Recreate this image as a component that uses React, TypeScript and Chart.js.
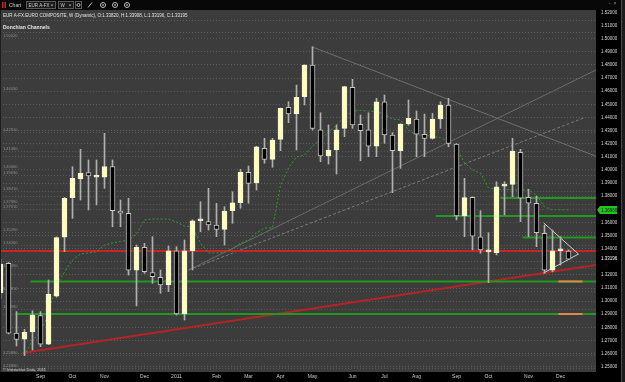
import React, { useEffect, useRef } from 'react';
import { Chart, registerables } from 'chart.js';

Chart.register(...registerables);

// Weekly candles, Aug 2010 .. Dec 2011 (index = week number)
const opens = [
  1.3062, 1.3289, 1.2756, 1.2711, 1.2765, 1.2889, 1.2672, 1.3038, 1.3487, 1.3788,
  1.3931, 1.3979, 1.3944, 1.3944, 1.4025, 1.3687, 1.3670, 1.3237, 1.3410, 1.3217,
  1.3182, 1.3123, 1.3384, 1.2902, 1.3384, 1.3613, 1.3606, 1.3580, 1.3547, 1.3689,
  1.3750, 1.3982, 1.3902, 1.4165, 1.4081, 1.4233, 1.4478, 1.4427, 1.4558, 1.4800,
  1.4305, 1.4106, 1.4152, 1.4317, 1.4630, 1.4348, 1.4305, 1.4182, 1.4520, 1.4266,
  1.4147, 1.4350, 1.4388, 1.4272, 1.4241, 1.4388, 1.4495, 1.4198, 1.3649, 1.3792,
  1.3491, 1.3375, 1.3369, 1.3877, 1.3890, 1.4134, 1.3792, 1.3746, 1.3517, 1.3237,
  1.3384, 1.3382,
];
const highs = [
  1.3320, 1.3295, 1.2920, 1.2785, 1.2927, 1.2920, 1.3161, 1.3490, 1.3790, 1.4025,
  1.4157, 1.4076, 1.4076, 1.4279, 1.4076, 1.3771, 1.3784, 1.3428, 1.3441, 1.3491,
  1.3237, 1.3420, 1.3415, 1.3466, 1.3620, 1.3758, 1.3860, 1.3746, 1.3720, 1.3834,
  1.4005, 1.4030, 1.4180, 1.4241, 1.4241, 1.4472, 1.4520, 1.4647, 1.4802, 1.4939,
  1.4436, 1.4343, 1.4343, 1.4637, 1.4691, 1.4419, 1.4436, 1.4546, 1.4571, 1.4284,
  1.4352, 1.4533, 1.4449, 1.4426, 1.4432, 1.4520, 1.4546, 1.4200, 1.3936, 1.3795,
  1.3689, 1.3522, 1.3910, 1.3910, 1.4241, 1.4157, 1.3853, 1.3801, 1.3580, 1.3542,
  1.3491, 1.33908,
];
const lows = [
  1.3020, 1.2750, 1.2658, 1.2585, 1.2628, 1.2653, 1.2668, 1.3030, 1.3377, 1.3631,
  1.3771, 1.3695, 1.3733, 1.3860, 1.3567, 1.3567, 1.3199, 1.2963, 1.3212, 1.3136,
  1.3060, 1.3072, 1.2894, 1.2856, 1.3237, 1.3529, 1.3542, 1.3491, 1.3428, 1.3593,
  1.3708, 1.3746, 1.3847, 1.4051, 1.4020, 1.4147, 1.4360, 1.4152, 1.4495, 1.4304,
  1.4063, 1.4045, 1.3969, 1.4253, 1.4317, 1.4070, 1.4101, 1.4101, 1.4203, 1.3827,
  1.4012, 1.4340, 1.4101, 1.4101, 1.4235, 1.4317, 1.4177, 1.3619, 1.3491, 1.3390,
  1.3365, 1.3141, 1.3352, 1.3657, 1.3796, 1.3606, 1.3491, 1.3415, 1.3212, 1.3224,
  1.3275, 1.33196,
];
const closes = [
  1.3283, 1.2756, 1.2709, 1.2762, 1.2894, 1.2672, 1.3054, 1.3484, 1.3784, 1.3936,
  1.3975, 1.3954, 1.3946, 1.4025, 1.3689, 1.3670, 1.3237, 1.3410, 1.3224, 1.3187,
  1.3123, 1.3384, 1.2902, 1.3384, 1.3613, 1.3615, 1.3580, 1.3547, 1.3687, 1.3750,
  1.3982, 1.3898, 1.4177, 1.4081, 1.4228, 1.4470, 1.4427, 1.4554, 1.4800, 1.4317,
  1.4106, 1.4152, 1.4305, 1.4635, 1.4343, 1.4300, 1.4182, 1.4520, 1.4266, 1.4147,
  1.4350, 1.4394, 1.4272, 1.4241, 1.4388, 1.4495, 1.4203, 1.3649, 1.3789, 1.3496,
  1.3390, 1.3378, 1.3872, 1.3880, 1.4144, 1.3784, 1.3746, 1.3522, 1.3237, 1.3384,
  1.3386, 1.33195,
];

// Donchian channel middle line (starts at week 3)
const donchianStart = 3;
const donchianMid = [
  1.2585, 1.2704, 1.2757, 1.2910, 1.3124, 1.3222, 1.3314, 1.3360, 1.3367, 1.3377,
  1.3428, 1.3443, 1.3455, 1.3466, 1.3512, 1.3619, 1.3626, 1.3626, 1.3626, 1.3603,
  1.3573, 1.3565, 1.3443, 1.3367, 1.3367, 1.3374, 1.3398, 1.3443, 1.3466, 1.3520,
  1.3558, 1.3558, 1.3885, 1.4015, 1.4099, 1.4114, 1.4182, 1.4228, 1.4289, 1.4343,
  1.4403, 1.4449, 1.4453, 1.4449, 1.4442, 1.4426, 1.4388, 1.4381, 1.4305, 1.4266,
  1.4266, 1.4255, 1.4247, 1.4213, 1.4167, 1.4053, 1.4000, 1.3977, 1.3862, 1.3855,
  1.3851, 1.3847, 1.3847, 1.3847, 1.3809, 1.3718, 1.36966, 1.36966, 1.36966,
];

const monthTickIndex = [5, 9, 13, 18, 22, 27, 31, 35, 39, 44, 48, 52, 57, 61, 66, 70];
const monthTickLabels = ['Sep', 'Oct', 'Nov', 'Dec', '2011', 'Feb', 'Mar', 'Apr', 'May', 'Jun', 'Jul', 'Aug', 'Sep', 'Oct', 'Nov', 'Dec'];

const priceTicks = [
  1.52, 1.51, 1.50, 1.49, 1.48, 1.47, 1.46, 1.45, 1.44, 1.43, 1.42, 1.41, 1.40, 1.39,
  1.38, 1.37, 1.36, 1.35, 1.34, 1.33, 1.32, 1.31, 1.30, 1.29, 1.28, 1.27, 1.26, 1.25,
];
const hiddenTickLabels = [1.37, 1.33];
const lastQuote = 1.33196;

// drawn levels (price) and their starting week
const resistanceLevel = 1.3382;
const supportLevels = [1.3150, 1.2902, 1.3649, 1.3786, 1.3485];
const supportStartWeek = [3.75, 1.9, 54.4, 62.5, 65.25];
const targetLevels = [1.3150, 1.2902];
const targetWeeks = [69.75, 72.75];
const pivotLevels = [
  1.5002, 1.4603, 1.4291, 1.4146, 1.4006, 1.3963, 1.3841, 1.3739, 1.3701, 1.3529,
  1.3426, 1.3249, 1.3081, 1.2939, 1.2588, 1.2489,
];

// trend lines: [week, price] end points
const redTrend = [[2.75, 1.2605], [74.44, 1.3276]];
const fallingTrend = [[39, 1.4937], [74.44, 1.4104]];
const risingTrendA = [[23.5, 1.3237], [74.44, 1.4762]];
const risingTrendB = [[23.5, 1.3237], [72.9, 1.4396]];
const pennant = [[67.9, 1.3596], [72.25, 1.3359], [67.9, 1.3215]];

const FONT = '"Liberation Sans", Arial, sans-serif';
const PLOT_BG = '#3c3c3c';

export default function App() {
  const ref = useRef<HTMLCanvasElement>(null);

  useEffect(() => {
    const canvas = ref.current;
    if (!canvas) return;
    const idx = closes.map((_, i) => i);
    const bull = idx.map((i) => closes[i] >= opens[i]);
    const bodyData = idx.map((i) => ({ x: i, y: [Math.min(opens[i], closes[i]), Math.max(opens[i], closes[i])] }));
    const wickData = idx.map((i) => ({ x: i, y: [lows[i], highs[i]] }));
    const donchianData = donchianMid.map((v, k) => ({ x: donchianStart + k, y: v }));
    const xEnd = 74.44;

    const line = (pts: number[][], color: string, width: number, dash: number[] = [], order = 3) => ({
      type: 'line' as const,
      data: pts.map((p) => ({ x: p[0], y: p[1] })),
      borderColor: color,
      borderWidth: width,
      borderDash: dash,
      pointRadius: 0,
      fill: false,
      tension: 0,
      order,
    });

    const datasets: any[] = [
      {
        type: 'bar',
        data: bodyData,
        backgroundColor: bull.map((b) => (b ? '#ffffb4' : '#000000')),
        borderColor: bull.map((b) => (b ? '#f4f4dc' : '#c4c4c4')),
        borderWidth: 1,
        borderSkipped: false,
        barThickness: 5,
        minBarLength: 2,
        grouped: false,
        order: 0,
      },
      {
        type: 'bar',
        data: wickData,
        backgroundColor: '#b0b0b0',
        borderWidth: 0,
        barThickness: 1,
        grouped: false,
        order: 1,
      },
      line(pennant, '#cfcfcf', 1, [], 2),
      {
        type: 'line',
        data: donchianData,
        borderColor: '#2f9a2f',
        borderWidth: 1,
        borderDash: [2, 2],
        pointRadius: 0,
        fill: false,
        tension: 0,
        order: 3,
      },
      line([[0, resistanceLevel], [xEnd, resistanceLevel]], '#c82424', 2, [], 4),
      ...supportLevels.map((p, k) => line([[supportStartWeek[k], p], [xEnd, p]], '#1f9a1f', 2, [], 4)),
      ...targetLevels.map((p) => line([[targetWeeks[0], p], [targetWeeks[1], p]], '#e0884a', 2, [], 3)),
      line(redTrend, '#b42424', 2, [], 4),
      line(fallingTrend, '#6e6e6e', 1, [], 5),
      line(risingTrendA, '#6a6a6a', 1, [], 5),
      line(risingTrendB, '#7a7a7a', 1, [3, 2], 5),
    ];

    const framePlugin = {
      id: 'terminalFrame',
      beforeDraw(chart: any) {
        const { ctx, chartArea: a, width, height } = chart;
        ctx.save();
        ctx.fillStyle = '#000';
        ctx.fillRect(0, 0, width, height);
        ctx.fillStyle = PLOT_BG;
        ctx.fillRect(a.left, a.top, a.right - a.left, a.bottom - a.top);
        ctx.restore();
      },
      beforeDatasetsDraw(chart: any) {
        const { ctx, chartArea: a, scales } = chart;
        const ys = scales.y;
        ctx.save();
        // pivot levels with small labels
        ctx.strokeStyle = '#565656';
        ctx.lineWidth = 1;
        ctx.setLineDash([1, 2]);
        ctx.font = `4px ${FONT}`;
        ctx.fillStyle = '#8c8c8c';
        ctx.textBaseline = 'bottom';
        pivotLevels.forEach((p) => {
          const yy = Math.round(ys.getPixelForValue(p)) + 0.5;
          ctx.beginPath();
          ctx.moveTo(a.left, yy);
          ctx.lineTo(a.right, yy);
          ctx.stroke();
          ctx.fillText(p.toFixed(5), 3, yy - 0.5);
        });
        // header panel
        ctx.setLineDash([]);
        ctx.fillStyle = PLOT_BG;
        ctx.fillRect(a.left, a.top, a.right - a.left, 23);
        ctx.strokeStyle = '#5e5e5e';
        ctx.setLineDash([1, 2]);
        [20.5, 32.5].forEach((yy) => {
          ctx.beginPath();
          ctx.moveTo(a.left, yy);
          ctx.lineTo(a.right, yy);
          ctx.stroke();
        });
        ctx.restore();
      },
      afterDraw(chart: any) {
        const { ctx, chartArea: a, scales, width, height } = chart;
        const ys = scales.y;
        ctx.save();
        // left border
        ctx.fillStyle = '#1e1e1e';
        ctx.fillRect(0, a.top, 1, a.bottom - a.top);
        // toolbar
        ctx.fillStyle = '#080808';
        ctx.fillRect(0, 0, width, 10);
        ctx.fillStyle = '#c42a2a';
        ctx.fillRect(2, 2, 1.5, 6);
        ctx.fillRect(4.5, 2, 1.5, 6);
        ctx.textBaseline = 'middle';
        ctx.font = `5px ${FONT}`;
        ctx.fillStyle = '#cfcfcf';
        ctx.fillText('Chart', 9, 5.5);
        ctx.strokeStyle = '#5a5a5a';
        ctx.lineWidth = 1;
        ctx.fillStyle = '#1a1a1a';
        ctx.fillRect(26.5, 1.5, 29, 7);
        ctx.strokeRect(26.5, 1.5, 29, 7);
        ctx.fillRect(58.5, 1.5, 15, 7);
        ctx.strokeRect(58.5, 1.5, 15, 7);
        ctx.strokeRect(75.5, 1.5, 6, 7);
        ctx.fillStyle = '#cfcfcf';
        ctx.font = `4.5px ${FONT}`;
        ctx.fillText('EUR A-FX', 28.5, 5.5);
        ctx.fillText('W', 60.5, 5.5);
        ctx.fillStyle = '#9a9a9a';
        [[52, 4.5], [70, 4.5]].forEach(([x, y]) => {
          ctx.beginPath();
          ctx.moveTo(x - 1.5, y);
          ctx.lineTo(x + 1.5, y);
          ctx.lineTo(x, y + 2);
          ctx.closePath();
          ctx.fill();
        });
        ctx.strokeStyle = '#bdbdbd';
        ctx.beginPath();
        ctx.arc(78.5, 5, 1.5, 0, Math.PI * 2);
        ctx.stroke();
        ctx.beginPath();
        ctx.moveTo(88, 7.5);
        ctx.lineTo(92, 2.5);
        ctx.stroke();
        [103, 115, 127].forEach((x) => {
          ctx.beginPath();
          ctx.arc(x, 5, 2.5, 0, Math.PI * 2);
          ctx.stroke();
          ctx.fillStyle = '#bdbdbd';
          ctx.fillRect(x - 0.75, 4.25, 1.5, 1.5);
        });
        ctx.fillStyle = '#8a8a8a';
        ctx.font = `5px ${FONT}`;
        ctx.fillText('-  \u00d7', 609, 3.5);
        // header texts
        ctx.fillStyle = '#e4e4e4';
        ctx.font = `4.5px ${FONT}`;
        const last = closes.length - 1;
        const title = `EUR A-FX.EURO COMPOSITE, W (Dynamic), O:${opens[last].toFixed(5)}, H:${highs[last].toFixed(5)}, L:${lows[last].toFixed(5)}, C:${closes[last].toFixed(5)}`;
        ctx.fillText(title, 3, 15.7);
        ctx.font = `bold 5px ${FONT}`;
        ctx.fillText('Donchian Channels', 3, 27.3);
        // copyright
        ctx.font = `4px ${FONT}`;
        ctx.fillStyle = '#dcdcdc';
        ctx.fillText('\u00a9 Interactive Data, 2011', 3, 369.5);
        // axis markers
        const dm = donchianMid[donchianMid.length - 1];
        const yg = Math.round(ys.getPixelForValue(dm));
        ctx.fillStyle = '#23c323';
        ctx.beginPath();
        ctx.moveTo(597, yg);
        ctx.lineTo(600, yg - 4);
        ctx.lineTo(617, yg - 4);
        ctx.lineTo(617, yg + 4);
        ctx.lineTo(600, yg + 4);
        ctx.closePath();
        ctx.fill();
        ctx.fillStyle = '#082808';
        ctx.font = `4.5px ${FONT}`;
        ctx.fillText(dm.toFixed(5), 601, yg + 0.5);
        const yq = ys.getPixelForValue(lastQuote);
        ctx.fillStyle = '#ffffff';
        ctx.fillText(lastQuote.toFixed(5), 601, yq);
        // right edge
        ctx.fillStyle = '#4a4a4a';
        ctx.fillRect(621, 0, 1, height);
        ctx.fillStyle = '#1c1c1c';
        ctx.fillRect(622, 0, 3, height);
        ctx.restore();
      },
    };

    const chart = new Chart(canvas, {
      type: 'bar',
      data: { datasets },
      options: {
        animation: false,
        responsive: false,
        devicePixelRatio: 1,
        events: [],
        layout: { padding: { top: 10, left: 0, right: 0, bottom: 0 } },
        plugins: { legend: { display: false }, tooltip: { enabled: false } },
        scales: {
          x: {
            type: 'linear',
            min: -0.0625,
            max: 74.4375,
            offset: false,
            bounds: 'data',
            grid: { display: false, drawTicks: false, offset: false },
            border: { display: false },
            afterBuildTicks: (s: any) => {
              s.ticks = monthTickIndex.map((v) => ({ value: v }));
            },
            afterFit: (s: any) => {
              s.height = 10;
            },
            ticks: {
              autoSkip: false,
              maxRotation: 0,
              minRotation: 0,
              padding: 2,
              color: '#cdcdcd',
              font: { size: 5, family: FONT },
              callback: (v: any) => {
                const k = monthTickIndex.indexOf(Number(v));
                return k >= 0 ? monthTickLabels[k] : '';
              },
            },
          },
          y: {
            type: 'linear',
            position: 'right',
            min: 1.245991,
            max: 1.521905,
            bounds: 'data',
            grid: { color: '#5e5e5e', drawTicks: false, lineWidth: 1 },
            border: { display: false, dash: [1, 2] },
            afterBuildTicks: (s: any) => {
              s.ticks = priceTicks.map((v) => ({ value: v }));
            },
            afterFit: (s: any) => {
              s.width = 29;
            },
            ticks: {
              autoSkip: false,
              padding: 5,
              color: '#d6d6d6',
              font: { size: 4.5, family: FONT },
              callback: (v: any) => {
                const n = Number(v);
                return hiddenTickLabels.some((h) => Math.abs(h - n) < 1e-6) ? '' : n.toFixed(5);
              },
            },
          },
        },
      } as any,
      plugins: [framePlugin],
    } as any);

    return () => chart.destroy();
  }, []);

  return (
    <div style={{ position: 'absolute', left: 0, top: 0, width: 625, height: 382, background: '#000' }}>
      <canvas ref={ref} width={625} height={382} style={{ display: 'block', width: 625, height: 382 }} />
    </div>
  );
}
